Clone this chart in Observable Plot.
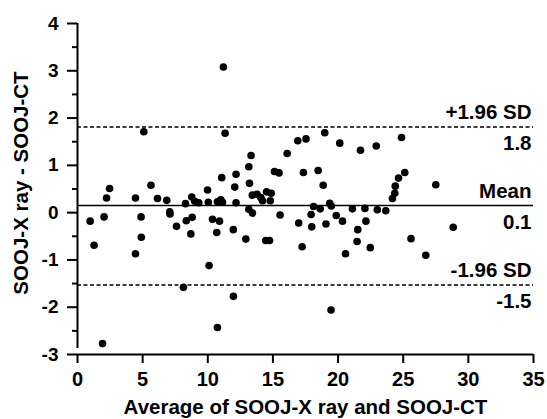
<!DOCTYPE html>
<html>
<head>
<meta charset="utf-8">
<script src="https://cdn.jsdelivr.net/npm/d3@7"></script>
<script src="https://cdn.jsdelivr.net/npm/@observablehq/plot@0.6"></script>
<style>
  html, body { margin: 0; padding: 0; background: white; }
</style>
</head>
<body>
<div id="chart"></div>
<script>
// Average of the two measurements (x)
const avg = [
  0.97, 1.27, 1.92, 2.04, 2.23, 2.46, 4.45, 4.45, 4.88, 4.90,
  5.09, 5.64, 6.14, 6.85, 7.08, 7.10, 7.60, 8.13, 8.29, 8.35,
  8.70, 8.77, 8.80, 9.00, 9.31, 9.98, 10.04, 10.10, 10.36, 10.69,
  10.74, 10.74, 10.90, 11.00, 11.13, 11.07, 11.20, 11.33, 11.96, 11.97,
  12.07, 12.17, 12.17, 12.92, 13.15, 13.20, 13.15, 13.32, 13.43, 13.42,
  13.78, 14.07, 14.20, 14.45, 14.74, 14.51, 14.87, 14.80, 15.12, 15.47,
  15.55, 16.09, 16.91, 16.98, 17.24, 17.34, 17.54, 17.93, 17.98, 18.12,
  18.47, 18.63, 18.86, 18.98, 19.07, 19.36, 19.48, 19.46, 19.86, 20.13,
  20.34, 20.57, 21.10, 21.46, 21.51, 21.72, 22.06, 22.14, 22.47, 22.93,
  23.01, 23.66, 24.17, 24.35, 24.39, 24.64, 24.87, 25.12, 25.60, 26.73,
  27.50, 28.84
];
// Difference of the two measurements (y)
const diff = [
  -0.18, -0.69, -2.77, -0.09, 0.31, 0.51, 0.31, -0.87, -0.09, -0.52,
  1.71, 0.58, 0.30, 0.26, 0.02, -0.03, -0.29, -1.58, 0.19, -0.17,
  -0.45, 0.33, -0.10, 0.24, 0.21, 0.48, 0.22, -1.12, -0.14, -0.42,
  -2.43, 0.23, -0.18, 0.27, 0.22, 0.74, 3.08, 1.68, -0.36, -1.77,
  0.54, 0.81, 0.21, -0.56, 0.97, 0.62, 0.07, 1.21, -0.01, 0.37,
  0.39, 0.32, 0.25, -0.59, -0.59, 0.44, 0.41, 0.25, 0.87, 0.84,
  -0.05, 1.25, 1.52, -0.22, -0.72, 0.85, 1.56, -0.04, -0.30, 0.13,
  0.89, 0.08, 0.58, 1.69, -0.24, 0.20, 0.14, -2.06, -0.06, 1.47,
  -0.18, -0.87, 0.08, -0.61, -0.36, 1.32, 0.09, -0.18, -0.74, 1.41,
  0.06, 0.04, 0.30, 0.41, 0.56, 0.73, 1.59, 0.85, -0.55, -0.90,
  0.59, -0.31
];

// Limits of agreement
const limitNames = ["+1.96 SD", "Mean", "-1.96 SD"];
const limitValues = [1.81, 0.15, -1.53];
const limitLabels = ["1.8", "0.1", "-1.5"];
const limitDashed = [true, false, true];

const xTicks = [0, 5, 10, 15, 20, 25, 30, 35];
const yTicks = [-3, -2, -1, 0, 1, 2, 3, 4];
const yMinorTicks = [-2.5, -1.5, -0.5, 0.5, 1.5, 2.5, 3.5];

const xTitle = "Average of SOOJ-X ray and SOOJ-CT";
const yTitle = "SOOJ-X ray - SOOJ-CT";

const points = avg.map((a, i) => ({a, d: diff[i]}));
const limits = limitNames.map((n, i) => ({name: n, value: limitValues[i], label: limitLabels[i], dashed: limitDashed[i]}));

const chart = Plot.plot({
  width: 547,
  height: 419,
  marginLeft: 77,
  marginRight: 14,
  marginTop: 23,
  marginBottom: 65,
  x: {domain: [0, 35]},
  y: {domain: [-3, 4]},
  style: {
    fontFamily: "'Liberation Sans', Arial, sans-serif",
    fontWeight: "bold",
    fontSize: "18px",
    color: "black",
    background: "white"
  },
  marks: [
    Plot.ruleY(limits.filter(d => !d.dashed), {y: "value", stroke: "black", strokeWidth: 1.5}),
    Plot.ruleY(limits.filter(d => d.dashed), {y: "value", stroke: "black", strokeWidth: 1.5, strokeDasharray: "4,2.5"}),
    Plot.dot(points, {x: "a", y: "d", r: 3.8, fill: "black", stroke: "none"}),
    Plot.axisY({ticks: yTicks, tickSize: 10, tickPadding: 9, tickFormat: d => String(d), label: null, strokeWidth: 2, fontSize: 19}),
    Plot.axisY({ticks: yMinorTicks, tickSize: 5, tickFormat: () => "", label: null, strokeWidth: 2}),
    Plot.axisX({ticks: xTicks, tickSize: 9, tickPadding: 8, tickFormat: d => String(d), label: null, strokeWidth: 2, fontSize: 20}),
    Plot.ruleX([0], {y1: -3, y2: 4, insetTop: -6, stroke: "black", strokeWidth: 2}),
    Plot.ruleY([-3], {x1: 0, x2: 35, stroke: "black", strokeWidth: 2}),
    Plot.text(limits, {x: 35, y: "value", text: "name", textAnchor: "end", lineAnchor: "bottom", dx: -2, dy: -8, fontSize: 20.5}),
    Plot.text(limits, {x: 35, y: "value", text: "label", textAnchor: "end", lineAnchor: "bottom", dx: -2, dy: 23, fontSize: 20.5}),
    Plot.text([yTitle], {frameAnchor: "left", rotate: -90, textAnchor: "middle", lineAnchor: "middle", dx: -56, dy: -6, text: d => d, fontSize: 20.5}),
    Plot.text([xTitle], {frameAnchor: "bottom", textAnchor: "middle", dy: 59, lineAnchor: "bottom", text: d => d, fontSize: 20.5})
  ]
});
document.getElementById("chart").appendChild(chart);
</script>
</body>
</html>
